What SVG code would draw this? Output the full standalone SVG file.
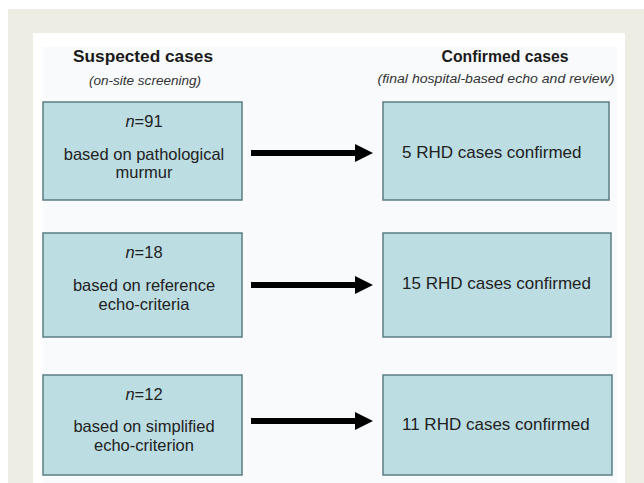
<svg xmlns="http://www.w3.org/2000/svg" width="644" height="483" viewBox="0 0 644 483">
<style>
.box{fill:#bcdde2;stroke:#5a7d85;stroke-width:1.5}
.t{font-family:"Liberation Sans",Arial,sans-serif;font-size:16.5px;fill:#222}
.r{font-family:"Liberation Sans",Arial,sans-serif;font-size:17px;fill:#222}
.h{font-family:"Liberation Sans",Arial,sans-serif;font-size:17px;font-weight:bold;fill:#1a1a1a}
.s{font-family:"Liberation Sans",Arial,sans-serif;font-size:12.5px;font-style:italic;fill:#333}
.arrow{stroke:#000;stroke-width:6;fill:none}
</style>
<defs>
<marker id="ah" markerWidth="4" markerHeight="4" refX="0" refY="2" orient="auto" markerUnits="strokeWidth">
<path d="M0,0.5 L3,2 L0,3.5 Z" fill="#000"/>
</marker>
</defs>
<rect x="0" y="0" width="644" height="483" fill="#ffffff"/>
<rect x="8" y="9" width="636" height="474" fill="#eeede4"/>
<rect x="33" y="33" width="592" height="450" fill="#ffffff"/>
<rect x="43" y="47" width="574" height="436" fill="#f8fafc"/>
<g id="headers">
<text class="h" x="143" y="62" text-anchor="middle" textLength="140" lengthAdjust="spacingAndGlyphs">Suspected cases</text>
<text class="s" x="145" y="85" text-anchor="middle" textLength="112" lengthAdjust="spacingAndGlyphs">(on-site screening)</text>
<text class="h" x="505" y="62" text-anchor="middle" textLength="127" lengthAdjust="spacingAndGlyphs">Confirmed cases</text>
<text class="s" x="496" y="83" text-anchor="middle" textLength="237" lengthAdjust="spacingAndGlyphs">(final hospital-based echo and review)</text>
</g>
<g id="suspected-murmur">
<rect class="box" x="43" y="102" width="199" height="98"/>
<text class="t" x="144" y="127" text-anchor="middle"><tspan font-style="italic">n</tspan>=91</text>
<text class="t" x="144" y="160" text-anchor="middle">based on pathological</text>
<text class="t" x="144" y="178" text-anchor="middle">murmur</text>
</g>
<g id="suspected-reference">
<rect class="box" x="43" y="233" width="199" height="104"/>
<text class="t" x="144" y="258" text-anchor="middle"><tspan font-style="italic">n</tspan>=18</text>
<text class="t" x="144" y="291" text-anchor="middle">based on reference</text>
<text class="t" x="144" y="310" text-anchor="middle">echo-criteria</text>
</g>
<g id="suspected-simplified">
<rect class="box" x="43" y="375" width="199" height="100"/>
<text class="t" x="144" y="400" text-anchor="middle"><tspan font-style="italic">n</tspan>=12</text>
<text class="t" x="144" y="432" text-anchor="middle">based on simplified</text>
<text class="t" x="144" y="451" text-anchor="middle">echo-criterion</text>
</g>
<g id="confirmed-5">
<rect class="box" x="383" y="102" width="226" height="98"/>
<text class="r" x="402" y="158">5 RHD cases confirmed</text>
</g>
<g id="confirmed-15">
<rect class="box" x="383" y="233" width="228" height="104"/>
<text class="r" x="402" y="289">15 RHD cases confirmed</text>
</g>
<g id="confirmed-11">
<rect class="box" x="383" y="375" width="229" height="100"/>
<text class="r" x="402" y="430">11 RHD cases confirmed</text>
</g>
<g id="connectors">
<line class="arrow" x1="251" y1="153" x2="355" y2="153" marker-end="url(#ah)"/>
<line class="arrow" x1="251" y1="285" x2="355" y2="285" marker-end="url(#ah)"/>
<line class="arrow" x1="251" y1="421" x2="355" y2="421" marker-end="url(#ah)"/>
</g>
</svg>
